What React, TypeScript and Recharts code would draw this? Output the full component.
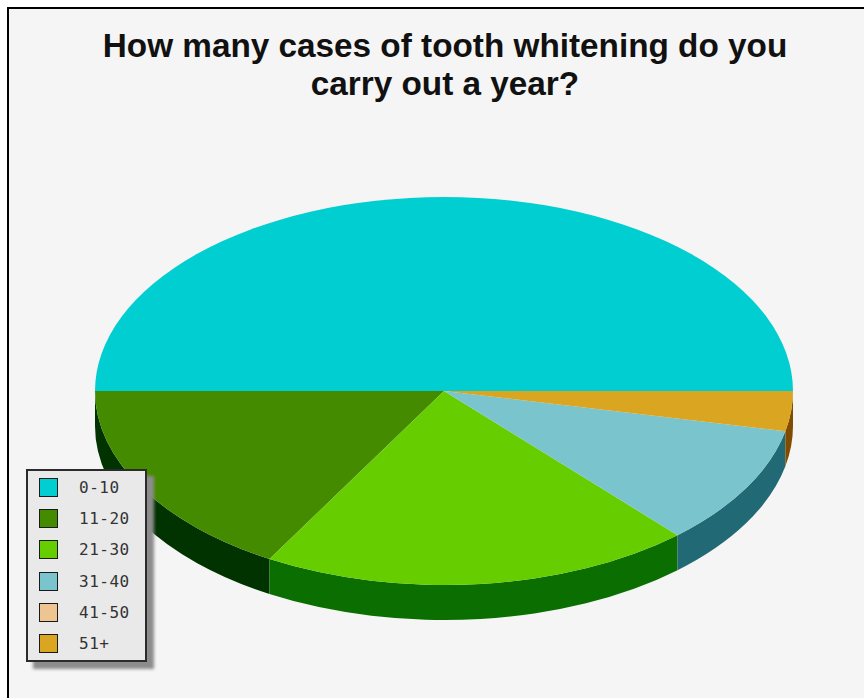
import { PieChart, Pie, Legend } from 'recharts'

const CATEGORIES = ['0-10', '11-20', '21-30', '31-40', '41-50', '51+']
const RESPONSES = [15, 5, 6, 3, 0, 1]
const TOP_COLORS = ['#00CED1', '#458B00', '#66CD00', '#7AC5CD', '#EEC591', '#DAA520']
const SIDE_COLORS = ['#006567', '#003300', '#0B6E00', '#216A75', '#8A6A40', '#824C00']
const TITLE_LINES = ['How many cases of tooth whitening do you', 'carry out a year?']

const CENTER_X = 444
const CENTER_Y = 391
const RADIUS_X = 349
const RADIUS_Y = 194
const DEPTH = 35

const topData = CATEGORIES.map((name, i) => ({ name, value: RESPONSES[i], fill: TOP_COLORS[i] }))
const sideData = CATEGORIES.map((name, i) => ({ name, value: RESPONSES[i], fill: SIDE_COLORS[i] }))

// point on the tilted rim for an angle in degrees, counter-clockwise from 3 o'clock
const rim = (cx: number, cy: number, rx: number, angle: number) => {
  const rad = (angle * Math.PI) / 180
  return { x: cx + rx * Math.cos(rad), y: cy - rx * (RADIUS_Y / RADIUS_X) * Math.sin(rad) }
}

function TopSlice(props: any) {
  const { cx, cy, outerRadius, startAngle, endAngle, fill } = props
  if (endAngle - startAngle <= 0) return null
  const rx = outerRadius
  const ry = rx * (RADIUS_Y / RADIUS_X)
  const a = rim(cx, cy, rx, startAngle)
  const b = rim(cx, cy, rx, endAngle)
  const large = endAngle - startAngle > 180 ? 1 : 0
  return <path d={`M${cx},${cy}L${a.x},${a.y}A${rx},${ry} 0 ${large} 0 ${b.x},${b.y}Z`} fill={fill} stroke="none" />
}

// only the front half of the disc shows a wall
function SideSlice(props: any) {
  const { cx, cy, outerRadius, startAngle, endAngle, fill } = props
  const from = Math.max(startAngle, 180)
  const to = Math.min(endAngle, 360)
  if (to - from <= 0) return null
  const rx = outerRadius
  const ry = rx * (RADIUS_Y / RADIUS_X)
  const a = rim(cx, cy, rx, from)
  const b = rim(cx, cy, rx, to)
  return (
    <path
      d={`M${a.x},${a.y}A${rx},${ry} 0 0 0 ${b.x},${b.y}L${b.x},${b.y + DEPTH}A${rx},${ry} 0 0 1 ${a.x},${a.y + DEPTH}Z`}
      fill={fill}
      stroke="none"
    />
  )
}

function LegendBox() {
  return (
    <div
      style={{
        boxSizing: 'border-box',
        width: 121,
        height: 193,
        background: '#E9E9E9',
        border: '2px solid #2B2B2B',
        boxShadow: '7px 7px 3px #8C8C8C',
        paddingTop: 1,
      }}
    >
      {CATEGORIES.map((name, i) => (
        <div key={name} style={{ display: 'flex', alignItems: 'center', height: 31.2 }}>
          <span
            style={{
              boxSizing: 'border-box',
              width: 19,
              height: 19,
              marginLeft: 11,
              background: TOP_COLORS[i],
              border: '1.5px solid #1A1A1A',
            }}
          />
          <span
            style={{
              marginLeft: 21,
              fontFamily: '"DejaVu Sans Mono", monospace',
              fontSize: 16,
              letterSpacing: 0.5,
              color: '#333',
            }}
          >
            {name}
          </span>
        </div>
      ))}
    </div>
  )
}

export default function App() {
  return (
    <div style={{ position: 'absolute', left: 0, top: 0, width: 864, height: 698, overflow: 'hidden', background: '#fff' }}>
      <div
        style={{
          position: 'absolute',
          left: 7,
          top: 7,
          width: 900,
          height: 760,
          boxSizing: 'border-box',
          background: '#F5F5F5',
          border: '2px solid #000',
        }}
      />
      <div style={{ position: 'absolute', left: 0, top: 0 }}>
        <PieChart width={864} height={698} margin={{ top: 0, right: 0, bottom: 0, left: 0 }}>
          {TITLE_LINES.map((line, i) => (
            <text
              key={line}
              x={445}
              y={57 + i * 38}
              textAnchor="middle"
              fontFamily='"Liberation Sans", Arial, sans-serif'
              fontWeight="bold"
              fontSize={33.3}
              fill="#111"
            >
              {line}
            </text>
          ))}
          <Pie
            data={sideData}
            dataKey="value"
            cx={CENTER_X}
            cy={CENTER_Y}
            outerRadius={RADIUS_X}
            startAngle={0}
            endAngle={360}
            legendType="none"
            label={false}
            labelLine={false}
            shape={SideSlice}
            isAnimationActive={false}
          />
          <Pie
            data={topData}
            dataKey="value"
            cx={CENTER_X}
            cy={CENTER_Y}
            outerRadius={RADIUS_X}
            startAngle={0}
            endAngle={360}
            label={false}
            labelLine={false}
            shape={TopSlice}
            isAnimationActive={false}
          />
          <Legend
            content={<LegendBox />}
            wrapperStyle={{ position: 'absolute', left: 26, top: 469, width: 121, height: 193, bottom: 'auto' }}
          />
        </PieChart>
      </div>
    </div>
  )
}
